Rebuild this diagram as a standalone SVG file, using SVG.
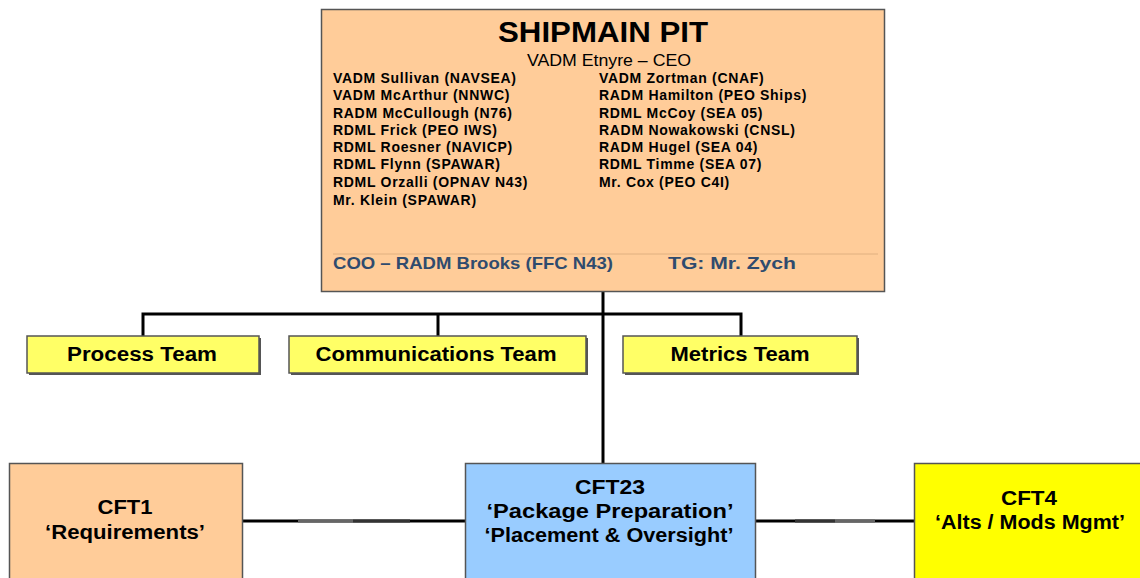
<svg xmlns="http://www.w3.org/2000/svg" width="1140" height="578" viewBox="0 0 1140 578">
<style>
.t{font-family:"Liberation Sans",Arial,sans-serif;font-weight:bold;fill:#000}
.m{font-size:14px;letter-spacing:0.7px}
.team{font-size:20px;text-anchor:middle}
.cft{font-size:20px;text-anchor:middle}
.box{stroke:#555;stroke-width:1.5}
.ln{stroke:#000;stroke-width:3;fill:none}
.blue{fill:#2F4B6E;font-size:17px}
</style>
<rect width="1140" height="578" fill="#fff"/>
<g id="connectors">
<path class="ln" d="M603 291 V463"/>
<path class="ln" d="M143 336 V314 H741 V336"/>
<path class="ln" d="M438 314 V336"/>
<path class="ln" d="M242 521 H465"/>
<path class="ln" d="M755 521 H914"/>
<path d="M298 521 H353" stroke="#666" stroke-width="3"/>
<path d="M353 521 H410" stroke="#333" stroke-width="3"/>
<path d="M795 521 H835" stroke="#333" stroke-width="3"/>
<path d="M835 521 H875" stroke="#666" stroke-width="3"/>
</g>
<g id="pit">
<rect class="box" x="321.5" y="9.5" width="563" height="282" fill="#FFCC99"/>
<text class="t" x="603" y="42" font-size="30" text-anchor="middle" textLength="210" lengthAdjust="spacingAndGlyphs">SHIPMAIN PIT</text>
<text class="t" x="609" y="66" font-size="17" text-anchor="middle" style="font-weight:normal" textLength="164" lengthAdjust="spacingAndGlyphs">VADM Etnyre – CEO</text>
<g class="t m">
<text x="333" y="83">VADM Sullivan (NAVSEA)</text>
<text x="333" y="100">VADM McArthur (NNWC)</text>
<text x="333" y="118">RADM McCullough (N76)</text>
<text x="333" y="135">RDML Frick (PEO IWS)</text>
<text x="333" y="152">RDML Roesner (NAVICP)</text>
<text x="333" y="169">RDML Flynn (SPAWAR)</text>
<text x="333" y="187">RDML Orzalli (OPNAV N43)</text>
<text x="333" y="205">Mr. Klein (SPAWAR)</text>
<text x="599" y="83">VADM Zortman (CNAF)</text>
<text x="599" y="100">RADM Hamilton (PEO Ships)</text>
<text x="599" y="118">RDML McCoy (SEA 05)</text>
<text x="599" y="135">RADM Nowakowski (CNSL)</text>
<text x="599" y="152">RADM Hugel (SEA 04)</text>
<text x="599" y="169">RDML Timme (SEA 07)</text>
<text x="599" y="187">Mr. Cox (PEO C4I)</text>
</g>
<line x1="333" y1="254" x2="878" y2="254" stroke="#E0B080" stroke-width="1"/>
<text class="t blue" x="333" y="269" textLength="280" lengthAdjust="spacingAndGlyphs">COO – RADM Brooks (FFC N43)</text>
<text class="t blue" x="668" y="269" textLength="128" lengthAdjust="spacingAndGlyphs">TG: Mr. Zych</text>
</g>
<g id="process">
<rect x="29" y="338" width="232" height="37" fill="#555"/>
<rect class="box" x="27" y="336" width="232" height="37" fill="#FFFF66"/>
<text class="t team" x="142" y="361" textLength="150" lengthAdjust="spacingAndGlyphs">Process Team</text>
</g>
<g id="communications">
<rect x="291" y="338" width="297" height="37" fill="#555"/>
<rect class="box" x="289" y="336" width="297" height="37" fill="#FFFF66"/>
<text class="t team" x="436" y="361" textLength="241" lengthAdjust="spacingAndGlyphs">Communications Team</text>
</g>
<g id="metrics">
<rect x="625" y="338" width="234" height="37" fill="#555"/>
<rect class="box" x="623" y="336" width="234" height="37" fill="#FFFF66"/>
<text class="t team" x="740" y="361" textLength="139" lengthAdjust="spacingAndGlyphs">Metrics Team</text>
</g>
<g id="cft1">
<rect class="box" x="9.5" y="463.5" width="233" height="120" fill="#FFCC99"/>
<text class="t cft" x="125" y="514" textLength="55" lengthAdjust="spacingAndGlyphs">CFT1</text>
<text class="t cft" x="125" y="539" textLength="160" lengthAdjust="spacingAndGlyphs">‘Requirements’</text>
</g>
<g id="cft23">
<rect class="box" x="465.5" y="463.5" width="290" height="120" fill="#99CCFF"/>
<text class="t cft" x="610" y="494" textLength="70" lengthAdjust="spacingAndGlyphs">CFT23</text>
<text class="t cft" x="610" y="518" textLength="247" lengthAdjust="spacingAndGlyphs">‘Package Preparation’</text>
<text class="t cft" x="609" y="542" textLength="249" lengthAdjust="spacingAndGlyphs">‘Placement &amp; Oversight’</text>
</g>
<g id="cft4">
<rect class="box" x="914.5" y="463.5" width="230" height="120" fill="#FFFF00"/>
<text class="t cft" x="1029" y="505" textLength="56" lengthAdjust="spacingAndGlyphs">CFT4</text>
<text class="t cft" x="1030" y="529" textLength="190" lengthAdjust="spacingAndGlyphs">‘Alts / Mods Mgmt’</text>
</g>
</svg>
